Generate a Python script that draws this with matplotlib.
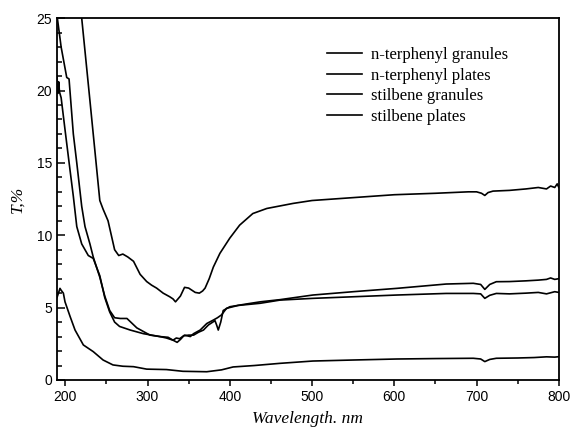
import matplotlib
matplotlib.use("Agg")
import matplotlib.pyplot as plt
from matplotlib.ticker import MultipleLocator

# transmission spectra
wl_a = [220, 230, 242, 246, 252, 260, 265, 270, 276, 283, 291, 299, 305, 311, 319, 327, 331, 334,
        337, 340, 345, 350, 354, 358, 363, 367, 370, 375, 380, 388, 400, 412, 428, 445, 477,
        500, 550, 600, 650, 690, 700, 706, 710, 714, 720, 740, 760, 775, 785, 790, 795, 798, 800]
t_a = [25.0, 19.3, 12.4, 11.8, 11.0, 9.0, 8.6, 8.7, 8.5, 8.2, 7.3, 6.8, 6.55, 6.35, 6.0, 5.75, 5.6, 5.4,
       5.6, 5.8, 6.4, 6.35, 6.2, 6.05, 6.0, 6.15, 6.35, 7.0, 7.8, 8.75, 9.8, 10.7, 11.5, 11.85, 12.2,
       12.4, 12.6, 12.8, 12.9, 13.0, 13.0, 12.9, 12.75, 12.95, 13.05, 13.1, 13.2, 13.3, 13.2, 13.4, 13.3, 13.55, 13.3]

wl_b = [190.4, 195, 201.8, 204.6, 209.8, 214, 220, 224, 230, 234, 242, 248, 254, 260, 267, 275, 287,
        303, 315, 323, 331, 336, 340, 344, 350, 356, 362, 368, 374, 378, 382, 384, 386, 389, 392, 400,
        420, 437, 461, 501, 550, 603, 663, 696, 705, 710, 716, 724, 740, 760, 775, 785, 790, 795, 800]
t_b = [25.0, 23.0, 20.9, 20.8, 17.0, 15.0, 12.0, 10.6, 9.4, 8.5, 7.1, 5.8, 4.8, 4.3, 4.25, 4.25, 3.6,
       3.1, 3.0, 2.9, 2.75, 2.6, 2.8, 3.05, 3.1, 3.1, 3.3, 3.45, 3.8, 3.95, 4.1, 3.8, 3.45, 4.0, 4.8, 5.06,
       5.25, 5.4, 5.55, 5.87, 6.1, 6.33, 6.63, 6.68, 6.6, 6.26, 6.6, 6.79, 6.8, 6.85, 6.9, 6.95, 7.05, 6.95, 7.0]

wl_c = [190, 191, 192, 193, 195, 199.7, 205.8, 209.8, 214, 220, 228, 234, 242, 248, 254, 260, 266,
        279, 295, 315, 325, 331, 335, 339, 345, 352, 356, 364, 372, 380, 385, 390, 396, 410, 437,
        461, 501, 550, 603, 663, 696, 705, 710, 716, 724, 740, 760, 775, 785, 795, 800]
t_c = [21.0, 19.8, 20.6, 19.9, 19.5, 17.3, 14.5, 12.7, 10.6, 9.4, 8.6, 8.4, 7.2, 5.7, 4.7, 4.0, 3.7,
       3.45, 3.2, 3.0, 2.95, 2.75, 2.9, 2.85, 3.1, 3.0, 3.2, 3.45, 3.9, 4.14, 4.3, 4.5, 4.95, 5.15, 5.3,
       5.52, 5.64, 5.75, 5.87, 5.98, 5.98, 5.95, 5.64, 5.85, 5.98, 5.95, 6.0, 6.05, 5.95, 6.1, 6.05]

wl_d = [190, 193.6, 195, 197.7, 199.7, 205.8, 211.9, 222, 234, 246, 258, 270, 283, 299, 323, 343,
        372, 390, 404, 430, 461, 501, 550, 603, 650, 696, 705, 710, 716, 724, 750, 770, 785, 795, 800]
t_d = [5.7, 6.33, 6.2, 6.0, 5.4, 4.4, 3.45, 2.42, 1.96, 1.38, 1.04, 0.95, 0.92, 0.75, 0.72, 0.6,
       0.57, 0.7, 0.9, 1.0, 1.15, 1.31, 1.38, 1.45, 1.48, 1.5, 1.45, 1.27, 1.42, 1.5, 1.52, 1.55, 1.6, 1.58, 1.61]

labels = ["n-terphenyl granules", "n-terphenyl plates", "stilbene granules", "stilbene plates"]

fig = plt.figure(figsize=(5.72, 4.32), dpi=100)
ax = fig.add_axes([0.0997, 0.1204, 0.8773, 0.8376])

for wl, t, lab in zip([wl_a, wl_b, wl_c, wl_d], [t_a, t_b, t_c, t_d], labels):
    ax.plot(wl, t, color="black", linewidth=1.2, label=lab)

ax.set_xlim(190, 800)
ax.set_ylim(0, 25)
ax.xaxis.set_major_locator(MultipleLocator(100))
ax.xaxis.set_minor_locator(MultipleLocator(50))
ax.yaxis.set_major_locator(MultipleLocator(5))
ax.yaxis.set_minor_locator(MultipleLocator(1))
ax.tick_params(axis="x", which="both", direction="out", width=1.1)
ax.tick_params(axis="x", which="major", length=4)
ax.tick_params(axis="x", which="minor", length=3)
ax.tick_params(axis="y", which="both", direction="in", width=1.1)
ax.tick_params(axis="y", which="major", length=6)
ax.tick_params(axis="y", which="minor", length=3.5)
for lbl in ax.get_xticklabels() + ax.get_yticklabels():
    lbl.set_family("Liberation Sans")
    lbl.set_fontsize(10)
for s in ax.spines.values():
    s.set_linewidth(1.3)

ax.set_xlabel("Wavelength. nm", family="Liberation Serif", style="italic", fontsize=12.5, labelpad=5)
ax.set_ylabel("T,%", family="Liberation Serif", style="italic", fontsize=12.5, labelpad=8)

leg = ax.legend(loc="upper left", bbox_to_anchor=(0.538, 0.92), frameon=False,
                borderaxespad=0, borderpad=0,
                prop={"family": "Liberation Serif", "size": 12},
                handlelength=2.1, handletextpad=0.55, labelspacing=0.27)

fig.savefig("out.png", dpi=100)
